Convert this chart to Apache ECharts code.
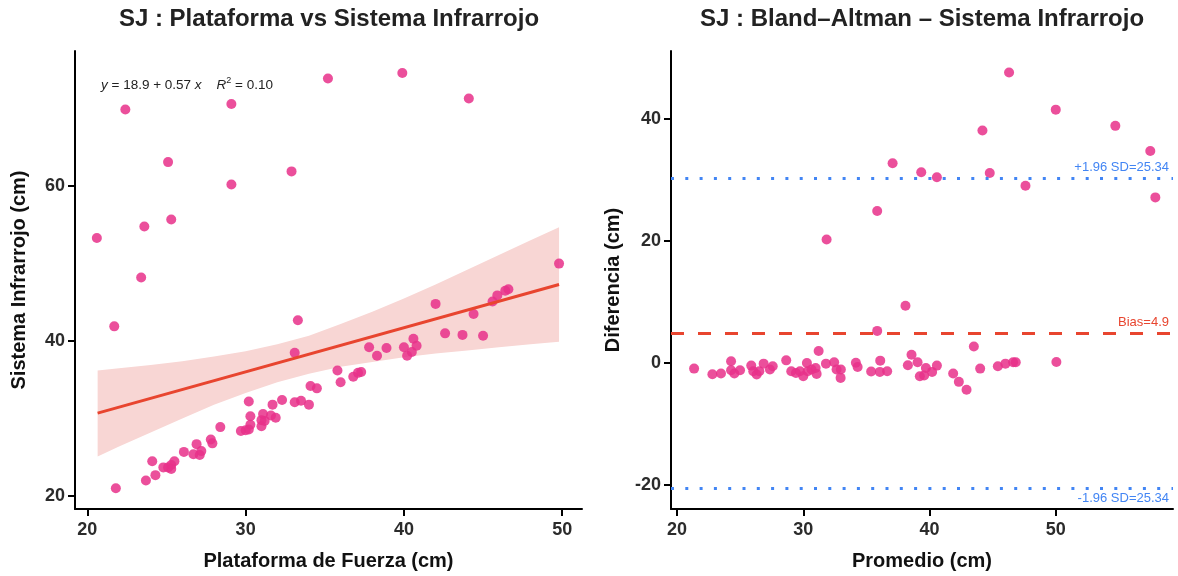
<!DOCTYPE html>
<html><head><meta charset="utf-8">
<script src="https://cdn.jsdelivr.net/npm/echarts@6/dist/echarts.min.js"></script>
<style>html,body{margin:0;padding:0;background:#fff}#c{width:1178px;height:576px}</style>
</head><body><div id="c"></div>
<script>
// Left panel: Plataforma (x) vs Sistema Infrarrojo (y)
const plataforma = [35.2,39.9,44.1,22.4,29.1,25.1,32.9,29.1,25.3,23.6,20.6,23.4,21.7,33.3,33.1,37.8,38.3,38.9,35.8,36.0,36.8,37.1,37.3,34.1,34.5,34.0,33.1,33.5,32.3,31.7,30.2,30.3,31.1,31.6,31.9,31.0,31.2,31.0,30.3,30.2,30.0,29.7,28.4,27.8,27.9,26.9,27.2,26.7,27.1,26.1,25.5,25.3,25.1,25.3,24.8,24.1,24.3,23.7,21.8,49.8,46.6,46.4,45.9,45.6,44.4,42.0,42.6,43.7,45.0,40.6,40.0,40.8,40.5,40.2];
const infrarrojo = [73.9,74.6,71.3,69.9,70.6,63.1,61.9,60.2,55.7,54.8,53.3,48.2,41.9,42.7,38.5,39.2,38.1,39.1,36.2,34.7,35.4,35.9,36.0,34.2,33.9,31.8,32.1,32.3,32.4,31.8,32.2,30.3,30.6,30.4,30.1,29.8,29.7,29.0,29.2,28.6,28.5,28.4,28.9,27.3,26.8,26.7,25.8,25.4,25.3,25.7,24.5,24.0,23.7,23.5,23.7,24.5,22.7,22.0,21.0,50.0,46.7,46.5,45.9,45.1,43.5,44.8,41.0,40.8,40.7,40.3,39.2,39.4,38.6,38.1];
// regression line and its confidence band
const fitX = [20.65, 49.8];
const fitY = [30.7, 47.3];
const bandX  = [20.65,22,24,26,28,30,32,34,36,38,40,42,44,46,48,49.8];
const bandLo = [25.1,26.4,28.2,30.0,31.8,33.3,34.7,35.8,36.7,37.3,37.9,38.4,38.8,39.2,39.6,39.9];
const bandHi = [36.2,36.5,36.9,37.4,38.0,38.7,39.6,40.7,42.2,43.8,45.5,47.3,49.2,51.1,53.0,54.7];
const leftXTicks = [20,30,40,50];
const leftYTicks = [20,40,60];

// Right panel: Bland-Altman
const promedio = [46.31,50.01,54.73,44.2,57.5,37.08,39.35,40.59,44.78,47.61,57.9,35.86,31.85,38.1,35.86,
 21.35,22.8,23.48,24.28,24.28,24.54,24.99,25.88,26.04,26.31,26.52,26.86,27.36,27.58,28.65,29.05,29.42,29.74,30.0,30.29,30.35,30.66,30.98,31.06,31.22,31.8,32.45,32.64,32.98,32.96,34.17,34.31,35.38,36.1,36.07,36.65,38.58,38.29,39.06,39.24,39.72,39.58,40.21,40.59,43.52,41.88,42.33,42.94,44.02,45.42,46.02,46.63,46.84,50.06];
const diferencia = [47.53,41.46,38.81,38.05,34.7,32.68,31.22,30.4,31.1,29.0,27.1,24.88,20.2,9.38,5.25,
 -0.92,-1.84,-1.73,0.27,-1.19,-1.73,-1.19,-0.43,-1.35,-1.9,-1.35,-0.11,-1.08,-0.54,0.43,-1.35,-1.63,-1.35,-2.17,0.0,-1.35,-1.08,-0.81,-1.79,1.95,-0.11,0.11,-1.08,-1.08,-2.44,0.05,-0.65,-1.41,0.38,-1.46,-1.35,1.35,-0.38,0.11,-2.17,-0.81,-2.06,-1.46,-0.43,2.71,-1.73,-3.09,-4.39,-0.92,-0.54,-0.11,0.11,0.11,0.16];
const limitValues = [30.24, 4.9, -20.44];
const limitLabels = ['+1.96 SD=25.34', 'Bias=4.9', '-1.96 SD=25.34'];
const rightXTicks = [20,30,40,50];
const rightYTicks = [-20,0,20,40];

const FONT = '"Liberation Sans", Arial, Helvetica, sans-serif';
const PINK = '#E8308A';
const RED = '#E8452F';
const BLUE = '#4285F4';

function axisBase(ticks, min, max, name, gap, rotateName, margin) {
  return {
    type: 'value', min: min, max: max, name: name, nameLocation: 'middle', nameGap: gap,
    nameRotate: rotateName ? 90 : 0,
    nameTextStyle: { fontFamily: FONT, fontSize: 20, fontWeight: 'bold', color: '#111' },
    axisLine: { show: true, onZero: false, lineStyle: { color: '#000', width: 2 } },
    axisTick: { show: true, length: 7, lineStyle: { color: '#000', width: 2 }, customValues: ticks },
    axisLabel: { fontFamily: FONT, fontSize: 18, fontWeight: 'bold', color: '#2b2b2b', margin: margin, customValues: ticks },
    splitLine: { show: false }
  };
}

const chart = echarts.init(document.getElementById('c'), null, { renderer: 'canvas' });
chart.setOption({
  animation: false,
  backgroundColor: '#fff',
  grid: [
    { left: 75, top: 51, width: 507, height: 461 },
    { left: 671, top: 51, width: 502, height: 461 }
  ],
  xAxis: [
    Object.assign(axisBase(leftXTicks, 19.22, 51.25, 'Plataforma de Fuerza (cm)', 42, false, 12), { gridIndex: 0 }),
    Object.assign(axisBase(rightXTicks, 19.52, 59.3, 'Promedio (cm)', 42, false, 12), { gridIndex: 1 })
  ],
  yAxis: [
    Object.assign(axisBase(leftYTicks, 18.33, 77.44, 'Sistema Infrarrojo (cm)', 46, true, 10), { gridIndex: 0 }),
    Object.assign(axisBase(rightYTicks, -23.9, 51.06, 'Diferencia (cm)', 48, true, 10), { gridIndex: 1 })
  ],
  graphic: [
    { type: 'text', x: 329, y: 19, style: { text: 'SJ : Plataforma vs Sistema Infrarrojo', align: 'center', verticalAlign: 'middle', font: 'bold 24px ' + FONT, fill: '#222' } },
    { type: 'text', x: 922, y: 19, style: { text: 'SJ : Bland\u2013Altman \u2013 Sistema Infrarrojo', align: 'center', verticalAlign: 'middle', font: 'bold 24px ' + FONT, fill: '#222' } },
    { type: 'text', x: 101, y: 85, style: {
        text: '{i|y} = 18.9 + 0.57 {i|x}    {i|R}{s|2} = 0.10',
        verticalAlign: 'middle', align: 'left', fill: '#222', fontFamily: FONT, fontSize: 13.5,
        rich: { i: { fontStyle: 'italic', fontFamily: FONT, fontSize: 13.5, fill: '#222' },
                s: { fontFamily: FONT, fontSize: 9, fill: '#222', verticalAlign: 'top', padding: [0, 0, 8, 0] } }
      } }
  ],
  series: [
    {
      type: 'custom', xAxisIndex: 0, yAxisIndex: 0, silent: true, z: 1,
      renderItem: function (params, api) {
        const pts = [];
        for (let i = 0; i < bandX.length; i++) pts.push(api.coord([bandX[i], bandHi[i]]));
        for (let i = bandX.length - 1; i >= 0; i--) pts.push(api.coord([bandX[i], bandLo[i]]));
        return { type: 'polygon', shape: { points: pts }, style: { fill: '#F8D6D4' } };
      },
      data: [[bandX[0], bandLo[0]]]
    },
    {
      type: 'scatter', xAxisIndex: 0, yAxisIndex: 0, z: 2, symbolSize: 10,
      itemStyle: { color: PINK, opacity: 0.85 },
      data: plataforma.map((x, i) => [x, infrarrojo[i]])
    },
    {
      type: 'line', xAxisIndex: 0, yAxisIndex: 0, z: 3, symbol: 'none',
      lineStyle: { color: RED, width: 3 },
      data: fitX.map((x, i) => [x, fitY[i]])
    },
    {
      type: 'scatter', xAxisIndex: 1, yAxisIndex: 1, z: 2, symbolSize: 10,
      itemStyle: { color: PINK, opacity: 0.85 },
      data: promedio.map((x, i) => [x, diferencia[i]]),
      markLine: {
        silent: true, symbol: ['none', 'none'], animation: false,
        data: [
          { yAxis: limitValues[0], lineStyle: { color: BLUE, width: 3, type: [3, 11.3], cap: 'butt' },
            label: { show: true, formatter: limitLabels[0], position: 'insideEndTop', distance: 4, color: BLUE, fontFamily: FONT, fontSize: 13 } },
          { yAxis: limitValues[1], lineStyle: { color: RED, width: 3, type: [13, 14], cap: 'butt' },
            label: { show: true, formatter: limitLabels[1], position: 'insideEndTop', distance: 4, color: RED, fontFamily: FONT, fontSize: 13 } },
          { yAxis: limitValues[2], lineStyle: { color: BLUE, width: 3, type: [3, 11.3], cap: 'butt' },
            label: { show: true, formatter: limitLabels[2], position: 'insideEndBottom', distance: 4, color: BLUE, fontFamily: FONT, fontSize: 13 } }
        ]
      }
    }
  ]
});
</script></body></html>
